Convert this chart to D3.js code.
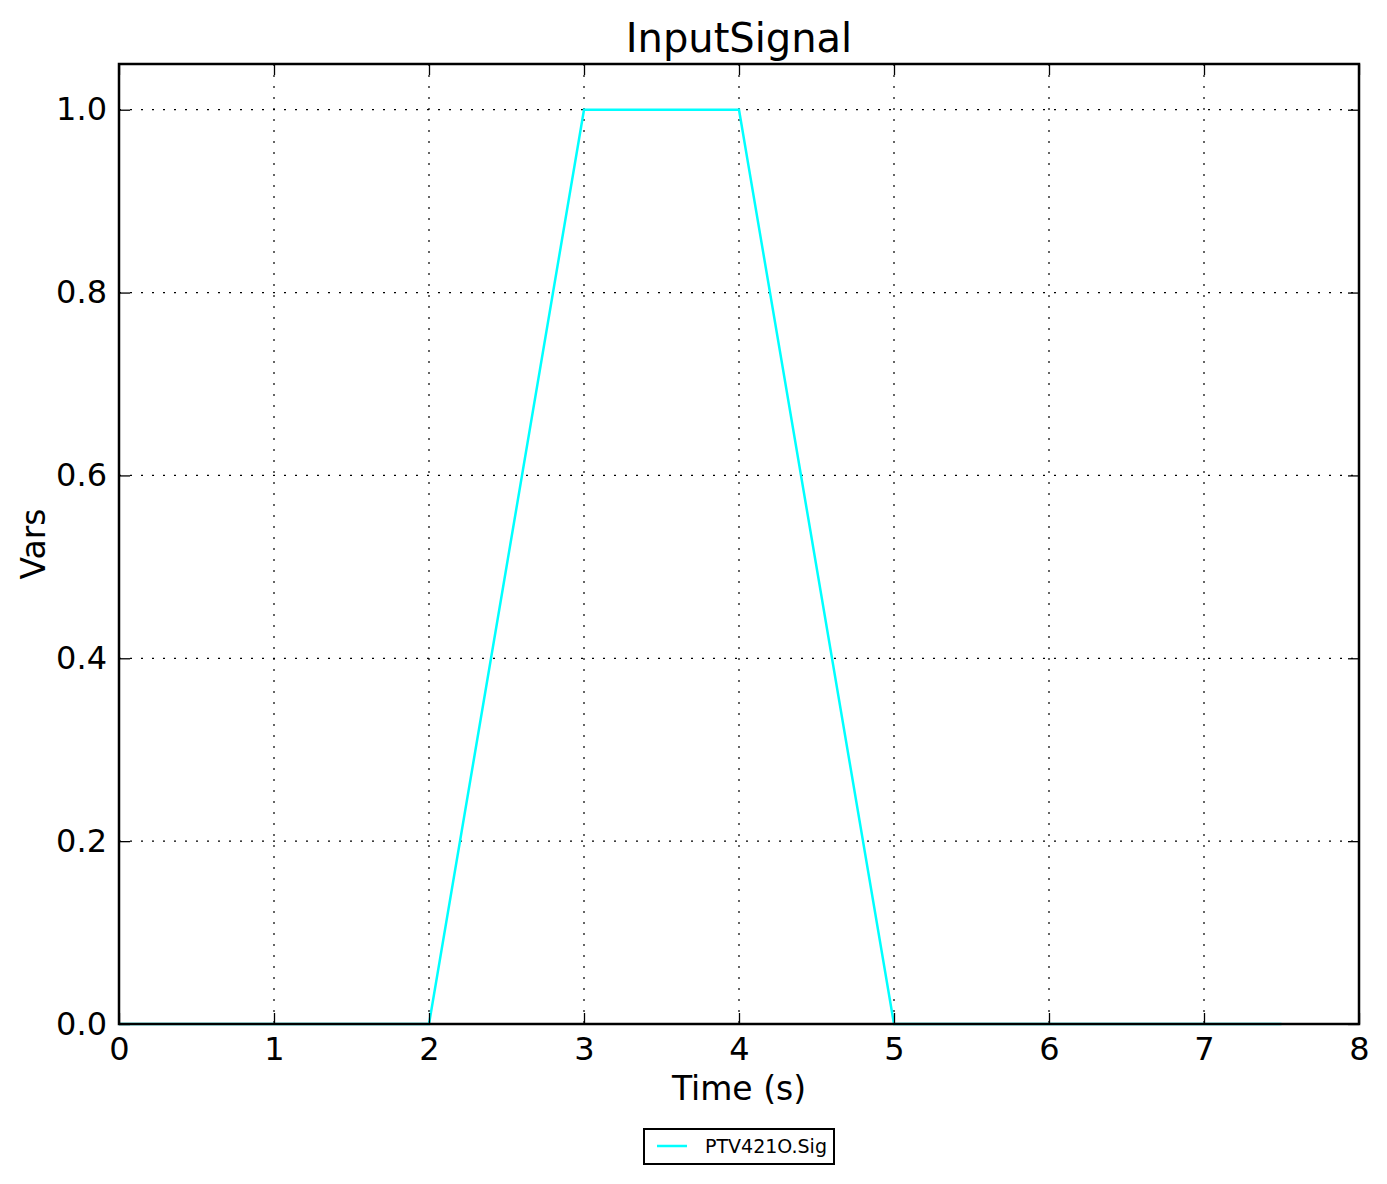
<!DOCTYPE html>
<html>
<head>
<meta charset="utf-8">
<script src="https://cdn.jsdelivr.net/npm/d3@7"></script>
<style>
  html, body { margin: 0; padding: 0; background: #ffffff; }
  svg { display: block; font-family: "DejaVu Sans", sans-serif; }
</style>
</head>
<body>
<script>
// ---- data ----
const timeValues = [0, 2, 3, 4, 5, 7.5];
const signalValues = [0, 0, 1, 1, 0, 0];
const xTicks = [0, 1, 2, 3, 4, 5, 6, 7, 8];
const yTicks = [0.0, 0.2, 0.4, 0.6, 0.8, 1.0];
const titleText = "InputSignal";
const xLabelText = "Time (s)";
const yLabelText = "Vars";
const seriesName = "PTV421O.Sig";

const W = 1387, H = 1184;
const mLeft = 119, mRight = 1359, mTop = 64, mBottom = 1024;

const svg = d3.select("body").append("svg").attr("width", W).attr("height", H);
svg.append("rect").attr("width", W).attr("height", H).attr("fill", "#fff");

const x = d3.scaleLinear().domain([0, 8]).range([mLeft, mRight]);
const y = d3.scaleLinear().domain([0, 1.05]).range([mBottom, mTop]);

// grid
const grid = svg.append("g");
xTicks.slice(1, -1).forEach(t => {
  grid.append("line").attr("x1", x(t)).attr("x2", x(t)).attr("y1", mTop).attr("y2", mBottom)
    .attr("stroke", "#000").attr("stroke-width", 1.2).attr("stroke-dasharray", "2,9");
});
yTicks.slice(1).forEach(t => {
  grid.append("line").attr("x1", mLeft).attr("x2", mRight).attr("y1", y(t)).attr("y2", y(t))
    .attr("stroke", "#000").attr("stroke-width", 1.2).attr("stroke-dasharray", "2,9");
});

// data line
const pts = timeValues.map((t, i) => [t, signalValues[i]]);
svg.append("path").datum(pts)
  .attr("d", d3.line().x(d => x(d[0])).y(d => y(d[1])))
  .attr("fill", "none").attr("stroke", "#00ffff").attr("stroke-width", 2.5)
  .attr("stroke-linejoin", "miter");

// axes (ticks inside, all four sides)
const tl = 11;
const fmtY = d3.format(".1f");
const axB = svg.append("g").attr("transform", `translate(0,${mBottom})`)
  .call(d3.axisBottom(x).tickValues(xTicks).tickSizeInner(-tl).tickSizeOuter(0).tickPadding(13).tickFormat(d3.format("d")));
const axT = svg.append("g").attr("transform", `translate(0,${mTop})`)
  .call(d3.axisTop(x).tickValues(xTicks).tickSizeInner(-tl).tickSizeOuter(0).tickFormat(""));
const axL = svg.append("g").attr("transform", `translate(${mLeft},0)`)
  .call(d3.axisLeft(y).tickValues(yTicks).tickSizeInner(-tl).tickSizeOuter(0).tickPadding(12).tickFormat(fmtY));
const axR = svg.append("g").attr("transform", `translate(${mRight},0)`)
  .call(d3.axisRight(y).tickValues(yTicks).tickSizeInner(-tl).tickSizeOuter(0).tickFormat(""));
[axB, axT, axL, axR].forEach(a => {
  a.select(".domain").remove();
  a.selectAll(".tick line").attr("stroke", "#000").attr("stroke-width", 1.3);
  a.selectAll("text").attr("font-family", "DejaVu Sans, sans-serif").attr("font-size", 32).attr("fill", "#000");
});
axB.selectAll("text").attr("dy", "0.71em");

// frame
svg.append("rect").attr("x", mLeft).attr("y", mTop).attr("width", mRight - mLeft).attr("height", mBottom - mTop)
  .attr("fill", "none").attr("stroke", "#000").attr("stroke-width", 2.5);

// title and labels
svg.append("text").attr("x", (mLeft + mRight) / 2).attr("y", 52).attr("text-anchor", "middle")
  .attr("font-size", 40).attr("fill", "#000").text(titleText);
svg.append("text").attr("x", (mLeft + mRight) / 2).attr("y", 1100).attr("text-anchor", "middle")
  .attr("font-size", 33).attr("fill", "#000").text(xLabelText);
svg.append("text").attr("transform", `translate(45,${(mTop + mBottom) / 2}) rotate(-90)`)
  .attr("text-anchor", "middle").attr("font-size", 33).attr("fill", "#000").text(yLabelText);

// legend
const lg = svg.append("g");
lg.append("rect").attr("x", 644).attr("y", 1129).attr("width", 190).attr("height", 35)
  .attr("fill", "#fff").attr("stroke", "#000").attr("stroke-width", 2);
lg.append("line").attr("x1", 657).attr("x2", 687).attr("y1", 1146).attr("y2", 1146)
  .attr("stroke", "#00ffff").attr("stroke-width", 2.5);
lg.append("text").attr("x", 705).attr("y", 1153).attr("font-size", 19).attr("fill", "#000").text(seriesName);
</script>
</body>
</html>
